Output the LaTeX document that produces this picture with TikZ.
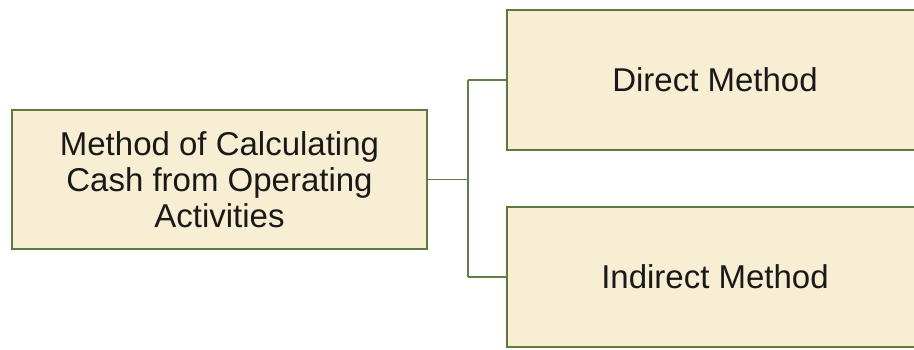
\documentclass[tikz,border=0pt]{standalone}
\usepackage{fontspec}
\setmainfont{Liberation Sans}
\usetikzlibrary{calc}
\definecolor{boxfill}{HTML}{F8EED3}
\definecolor{boxline}{HTML}{5E7A40}
\definecolor{conline}{HTML}{5F7F48}
\begin{document}
\begin{tikzpicture}[x=1pt,y=-1pt,
  box/.style={draw=boxline, line width=2.6pt, fill=boxfill, inner sep=0pt,
    align=center, font=\fontsize{33}{36}\selectfont, text=black!90},
  conn/.style={draw=conline, line width=1.8pt}]
\useasboundingbox (0,0) rectangle (914,349);
\clip (0,0) rectangle (914,349);
\fill[white] (0,0) rectangle (914,349);
\node[box, minimum width=415pt, minimum height=139pt] (left) at (219.5,179.5)
  {Method of Calculating\\Cash from Operating\\Activities};
\node[box, minimum width=416pt, minimum height=140pt] (direct) at (715,80) {Direct Method};
\node[box, minimum width=416pt, minimum height=140pt] (indirect) at (715,277) {Indirect Method};
\coordinate (split) at (468,179.5);
\draw[conn] (left.east) -- (split);
\draw[conn] (split |- direct.west) -- (split |- indirect.west);
\draw[conn] (split |- direct.west) -- (direct.west);
\draw[conn] (split |- indirect.west) -- (indirect.west);
\end{tikzpicture}
\end{document}
